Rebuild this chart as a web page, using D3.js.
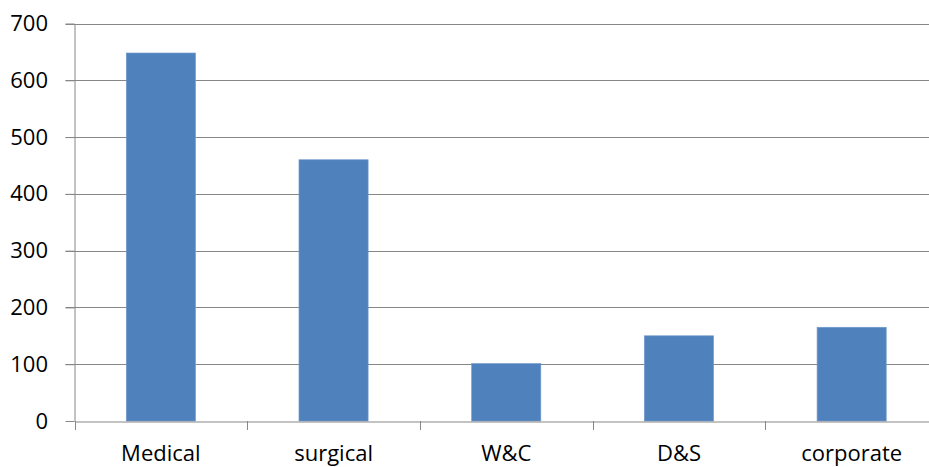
<!DOCTYPE html>
<html><head><meta charset="utf-8">
<script src="https://cdn.jsdelivr.net/npm/d3@7"></script>
<style>body{margin:0;background:#fff}svg{display:block}</style>
</head><body>
<svg id="c" width="929" height="467"></svg>
<script>
const categories = ["Medical", "surgical", "W&C", "D&S", "corporate"];
const values = [648, 460, 101, 150, 165];
const yTicks = [0, 100, 200, 300, 400, 500, 600, 700];

(function () {
const svg = d3.select("#c");
const mLeft = 74.5, mRight = 938, mTop = 23.5, mBottom = 421;
const x = d3.scaleBand().domain(categories).range([mLeft, mRight]).paddingInner(0.6).paddingOuter(0.3);
const xb = d3.scaleBand().domain(categories).range([mLeft, mRight]);
const y = d3.scaleLinear().domain([0, 700]).range([mBottom, mTop]);
const grid = "#878787";
const font = "'Open Sans', Lato, sans-serif";

// gridlines
svg.append("g").selectAll("line").data(yTicks.filter(d => d > 0)).join("line")
  .attr("x1", mLeft - 9).attr("x2", mRight)
  .attr("y1", d => Math.round(y(d)) + 0.5).attr("y2", d => Math.round(y(d)) + 0.5)
  .attr("stroke", grid).attr("stroke-width", 1);

// bars
svg.append("g").selectAll("rect").data(categories).join("rect")
  .attr("x", d => x(d)).attr("width", x.bandwidth())
  .attr("y", (d, i) => y(values[i])).attr("height", (d, i) => mBottom - y(values[i]))
  .attr("fill", "#4F81BD").attr("stroke", "#6f98cc").attr("stroke-width", 0.7);

// y axis
const ya = d3.axisLeft(y).tickValues(yTicks).tickSize(9).tickSizeOuter(0).tickPadding(17.5);
const gy = svg.append("g").attr("transform", `translate(${mLeft},0)`).call(ya);
gy.select(".domain").attr("stroke", grid);
gy.selectAll(".tick line").attr("stroke", grid);
gy.selectAll("text").attr("font-family", font).attr("font-size", 22).attr("fill", "#000");

// x axis
const xa = d3.axisBottom(xb).tickSize(0).tickSizeOuter(0).tickPadding(23.5);
const gx = svg.append("g").attr("transform", `translate(0,${mBottom + 0.5})`).call(xa);
gx.select(".domain").attr("stroke", grid);
gx.selectAll("text").attr("font-family", font).attr("font-size", 22).attr("fill", "#000");
// category boundary ticks
svg.append("g").selectAll("line").data(d3.range(categories.length + 1)).join("line")
  .attr("x1", i => Math.round(mLeft + i * xb.step()) + 0.5).attr("x2", i => Math.round(mLeft + i * xb.step()) + 0.5)
  .attr("y1", mBottom).attr("y2", mBottom + 9).attr("stroke", grid);
})();
</script>
</body></html>
